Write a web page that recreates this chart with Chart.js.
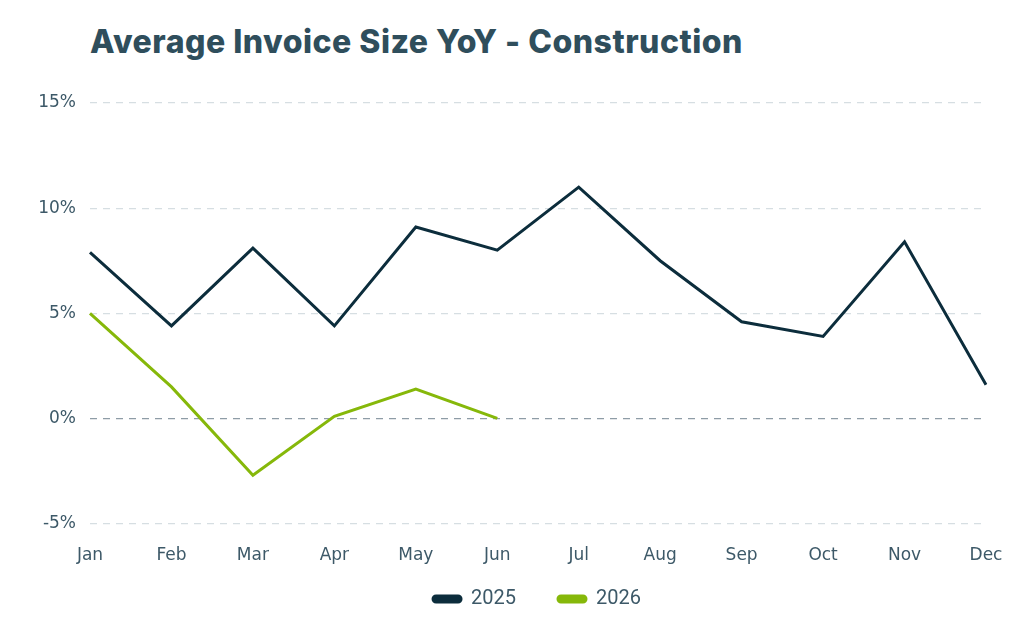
<!DOCTYPE html>
<html>
<head>
<meta charset="utf-8">
<script src="https://cdn.jsdelivr.net/npm/chart.js@4"></script>
<style>
  html, body { margin: 0; padding: 0; background: #ffffff; }
  #wrap { position: relative; width: 1024px; height: 640px; }
  #title {
    position: absolute; left: 90px; top: 22px;
    font-family: "Inter", "Open Sans", sans-serif; font-weight: 800;
    font-size: 32px; color: #2f4e5c; letter-spacing: 0.5px; white-space: nowrap;
  }
  canvas { position: absolute; left: 0; top: 0; }
</style>
</head>
<body>
<div id="wrap">
  <div id="title">Average Invoice Size YoY - Construction</div>
  <canvas id="chart" width="1024" height="640"></canvas>
</div>
<script>
const months = ['Jan','Feb','Mar','Apr','May','Jun','Jul','Aug','Sep','Oct','Nov','Dec'];
const seriesNames = ['2025','2026'];
const values2025 = [7.9, 4.4, 8.1, 4.4, 9.1, 8.0, 11.0, 7.5, 4.6, 3.9, 8.4, 1.6];
const values2026 = [5.0, 1.5, -2.7, 0.1, 1.4, 0.0, null, null, null, null, null, null];
const yTicks = [-5, 0, 5, 10, 15];

const navy = '#0c2d3c';
const green = '#86b80a';
const textColor = '#3d5968';

// nudge the legend block so it sits under the plot centre like the original
const legendNudge = {
  id: 'legendNudge',
  afterLayout(chart) {
    const lg = chart.legend;
    if (!lg) return;
    const dx = 25, dy = -33;
    lg.left += dx; lg.right += dx;
    lg.top += dy; lg.bottom += dy;
  }
};

const ctx = document.getElementById('chart').getContext('2d');
const chart = new Chart(ctx, {
  type: 'line',
  data: {
    labels: months,
    datasets: [{
      label: seriesNames[0],
      data: values2025,
      borderColor: navy,
      backgroundColor: navy,
      borderWidth: 3,
      pointRadius: 0,
      tension: 0
    }, {
      label: seriesNames[1],
      data: values2026,
      borderColor: green,
      backgroundColor: green,
      borderWidth: 3,
      pointRadius: 0,
      tension: 0,
      spanGaps: false
    }]
  },
  plugins: [legendNudge],
  options: {
    responsive: false,
    animation: false,
    layout: { padding: { top: 103, left: 38, right: 38, bottom: -12 } },
    plugins: {
      title: { display: false },
      tooltip: { enabled: false },
      legend: {
        position: 'bottom',
        labels: {
          boxWidth: 28,
          boxHeight: 6,
          useBorderRadius: true,
          borderRadius: 3,
          padding: 42,
          color: textColor,
          font: { family: 'Roboto', size: 20 }
        }
      }
    },
    scales: {
      x: {
        grid: { display: false },
        border: { display: false },
        ticks: {
          color: textColor,
          padding: 14,
          maxRotation: 0,
          font: { family: 'DejaVu Sans', size: 17 }
        }
      },
      y: {
        min: yTicks[0],
        max: yTicks[yTicks.length - 1],
        afterBuildTicks: (scale) => { scale.ticks = yTicks.map(v => ({ value: v })); },
        afterFit: (scale) => { scale.width = 52; },
        border: { display: false, dash: [7, 6] },
        grid: {
          color: (c) => c.tick && c.tick.value === 0 ? '#8e9ca6' : '#d6dee2',
          lineWidth: 1.2,
          drawTicks: false
        },
        ticks: {
          color: textColor,
          padding: 14,
          font: { family: 'DejaVu Sans', size: 17 },
          callback: (v) => v + '%'
        }
      }
    }
  }
});
</script>
</body>
</html>
